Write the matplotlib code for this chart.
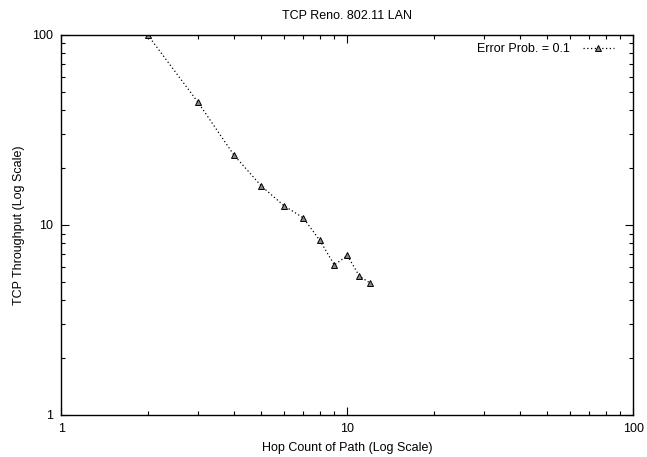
import matplotlib
matplotlib.use("Agg")
import matplotlib.pyplot as plt
from matplotlib.ticker import LogLocator, FixedLocator, NullFormatter

# hop count vs. throughput
HOPS = [2, 3, 4, 5, 6, 7, 8, 9, 10, 11, 12]
THROUGHPUT = [100, 44.2, 23.4, 16.0, 12.6, 10.9, 8.3, 6.15, 6.9, 5.38, 4.94]

TICKS = [1, 10, 100]
TICK_LABELS = ["1", "10", "100"]

plt.rcParams['font.family'] = ['Liberation Sans', 'DejaVu Sans']
plt.rcParams['font.size'] = 9

fig = plt.figure(figsize=(6.47, 4.57), dpi=100)
ax = fig.add_axes([0.095, 0.092, 0.884, 0.832])

ax.plot(HOPS, THROUGHPUT, linestyle=(0, (1, 2)), color="black", linewidth=0.9,
        marker="^", markersize=5, markerfacecolor="#888888",
        markeredgecolor="black", markeredgewidth=0.7,
        label="Error Prob. = 0.1")

ax.set_xscale("log")
ax.set_yscale("log")
ax.set_xlim(1, 100)
ax.set_ylim(1, 100)

for axis in (ax.xaxis, ax.yaxis):
    axis.set_major_locator(FixedLocator(TICKS))
    axis.set_minor_locator(LogLocator(base=10, subs=range(2, 10)))
    axis.set_minor_formatter(NullFormatter())
ax.set_xticklabels(TICK_LABELS)
ax.set_yticklabels(TICK_LABELS)

ax.tick_params(which="both", direction="in", top=True, right=True, width=0.8)
ax.tick_params(which="major", length=6, pad=6)
ax.tick_params(which="minor", length=3)
for s in ax.spines.values():
    s.set_linewidth(1.0)

ax.set_xlabel("Hop Count of Path (Log Scale)", labelpad=5)
ax.set_ylabel("TCP Throughput (Log Scale)", labelpad=5)
ax.set_title("TCP Reno. 802.11 LAN", fontsize=9, pad=11)

leg = ax.legend(loc="upper right", bbox_to_anchor=(0.981, 1.0), frameon=False,
                markerfirst=False, handlelength=2.5, borderaxespad=0.3,
                handletextpad=1.0)

fig.savefig("out.png", dpi=100)
